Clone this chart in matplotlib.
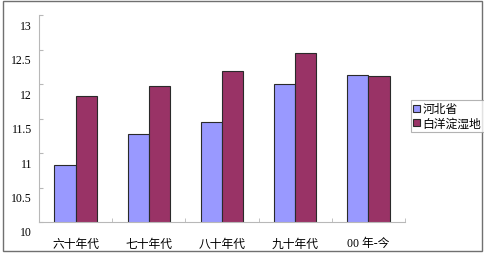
import matplotlib
matplotlib.use("Agg")
import matplotlib.pyplot as plt
import matplotlib.transforms as mtransforms
from matplotlib.patches import Rectangle
import numpy as np

plt.rcParams['font.family'] = ['Noto Sans CJK SC', 'DejaVu Sans']

# data
categories = ["六十年代", "七十年代", "八十年代", "九十年代", "00 年-今"]
hebei = [10.83, 11.28, 11.45, 12.00, 12.13]
baiyangdian = [11.83, 11.97, 12.19, 12.45, 12.12]
series_names = ["河北省", "白洋淀湿地"]
y_ticks = [10, 10.5, 11, 11.5, 12, 12.5, 13]

fig = plt.figure(figsize=(4.85, 2.55), dpi=100)
ax = fig.add_axes([0.0804, 0.1255, 0.7546, 0.8115])

x = np.arange(len(categories))
w = 0.29
b1 = ax.bar(x - w, hebei, width=w, align='edge', color='#9999FF',
            edgecolor='#2a2a2a', linewidth=0.8, label=series_names[0])
b2 = ax.bar(x, baiyangdian, width=w, align='edge', color='#993366',
            edgecolor='#2a2a2a', linewidth=0.8, label=series_names[1])

ax.set_xlim(-0.5, len(categories) - 0.5)
ax.set_ylim(10, 13)

# spines: only left and bottom, light gray
for s in ['top', 'right']:
    ax.spines[s].set_visible(False)
for s in ['left', 'bottom']:
    ax.spines[s].set_color('#b8b8b8')
    ax.spines[s].set_linewidth(0.8)

ax.set_yticks(y_ticks)
ax.set_yticklabels([("%g" % v) for v in y_ticks], family='Liberation Serif',
                   fontsize=8.5)
ax.tick_params(axis='y', direction='in', length=3, color='#b8b8b8', pad=5)
# labels sit a bit lower than their tick marks in the original
off = mtransforms.ScaledTranslation(0, -9 / 100, fig.dpi_scale_trans)
for lab in ax.get_yticklabels():
    lab.set_transform(lab.get_transform() + off)

ax.set_xticks(x)
ax.set_xticklabels(categories, fontsize=8.5)
ax.tick_params(axis='x', which='major', length=0, pad=11)
ax.set_xticks(np.arange(0.5, len(categories)), minor=True)
ax.tick_params(axis='x', which='minor', direction='in', length=3,
               color='#b8b8b8')
for lab in ax.get_xticklabels():
    if lab.get_text().startswith("00"):
        lab.set_family(['Liberation Serif', 'Noto Sans CJK SC'])

leg = fig.legend(handles=[b1, b2], loc='center left',
                 bbox_to_anchor=(0.847, 0.541), fontsize=8.5,
                 frameon=True, fancybox=False, handlelength=0.6,
                 handleheight=0.6, handletextpad=0.2, borderpad=0.2,
                 labelspacing=0.1, borderaxespad=0)
leg.get_frame().set_edgecolor('#a0a0a0')
leg.get_frame().set_linewidth(0.8)

# outer frame around the whole chart area
fig.patches.append(Rectangle((0.006, 0.01), 0.988, 0.982,
                             transform=fig.transFigure, fill=False,
                             edgecolor='#707070', linewidth=1.0))

fig.savefig("out.png", dpi=100)
